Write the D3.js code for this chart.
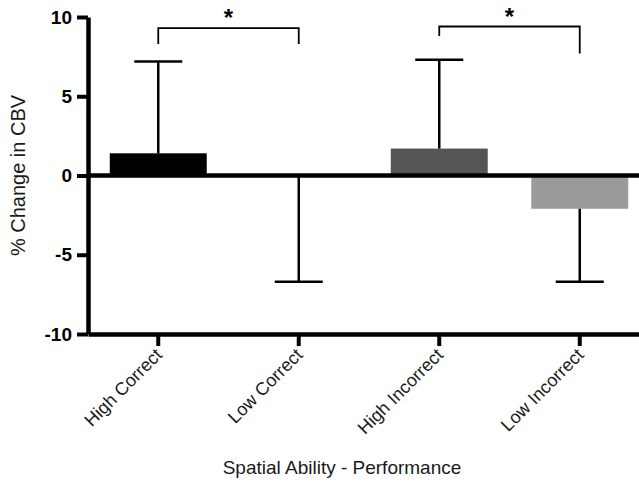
<!DOCTYPE html>
<html>
<head>
<meta charset="utf-8">
<script src="https://cdn.jsdelivr.net/npm/d3@7"></script>
<style>
  body { margin: 0; background: #fff; }
  text { font-family: "Liberation Sans", Arial, sans-serif; }
</style>
</head>
<body>
<div class="chart"></div>
<script>
const svgWidth = 639;
const svgHeight = 492;

// data
const groups = ["High Correct", "Low Correct", "High Incorrect", "Low Incorrect"];
const meanChange = [1.4, -0.05, 1.7, -2.1];
const errorEnd = [7.2, -6.7, 7.3, -6.7];
const barColors = ["#000000", "#000000", "#555555", "#9a9a9a"];
const yTicks = [-10, -5, 0, 5, 10];

// significance brackets: [from group, to group, bar height, left leg end, right leg end]
const brackets = [
  ["High Correct", "Low Correct", 9.3, 8.3, 8.3],
  ["High Incorrect", "Low Incorrect", 9.4, 8.8, 7.7]
];

const svg = d3.select(".chart")
  .append("svg")
  .attr("width", svgWidth)
  .attr("height", svgHeight);

// scales
const xScale = d3.scaleBand()
  .domain(groups)
  .range([88, 650])
  .paddingInner(0.31)
  .paddingOuter(0.155);

const yScale = d3.scaleLinear()
  .domain([-10, 10])
  .range([334, 17]);

const cx = g => xScale(g) + xScale.bandwidth() / 2;

// bars
svg.selectAll("rect.bar")
  .data(groups)
  .enter()
  .append("rect")
  .attr("class", "bar")
  .attr("x", d => xScale(d))
  .attr("width", xScale.bandwidth())
  .attr("y", (d, i) => yScale(Math.max(0, meanChange[i])))
  .attr("height", (d, i) => Math.abs(yScale(meanChange[i]) - yScale(0)))
  .attr("fill", (d, i) => barColors[i]);

// error bars
const capHalf = 24;
const errs = svg.append("g")
  .attr("stroke", "#000")
  .attr("stroke-width", 2.5);

groups.forEach((g, i) => {
  errs.append("line")
    .attr("x1", cx(g)).attr("x2", cx(g))
    .attr("y1", yScale(meanChange[i])).attr("y2", yScale(errorEnd[i]));
  errs.append("line")
    .attr("x1", cx(g) - capHalf).attr("x2", cx(g) + capHalf)
    .attr("y1", yScale(errorEnd[i])).attr("y2", yScale(errorEnd[i]));
});

// y axis
const yAxis = d3.axisLeft(yScale)
  .tickValues(yTicks)
  .tickFormat(d => String(d))
  .tickSize(11)
  .tickPadding(5)
  .tickSizeOuter(0);

const yG = svg.append("g")
  .attr("transform", "translate(88,0)")
  .call(yAxis);
yG.select(".domain").attr("stroke-width", 4.5);
yG.selectAll(".tick line").attr("stroke-width", 4);
yG.selectAll(".tick text")
  .attr("font-size", 19)
  .attr("font-weight", "bold")
  .attr("fill", "#000");

// zero line
svg.append("line")
  .attr("x1", 88).attr("x2", svgWidth)
  .attr("y1", yScale(0)).attr("y2", yScale(0))
  .attr("stroke", "#000")
  .attr("stroke-width", 4.5);

// x axis at bottom
const xAxis = d3.axisBottom(xScale)
  .tickSize(12)
  .tickSizeOuter(0)
  .tickFormat("");

const xG = svg.append("g")
  .attr("transform", `translate(0,${yScale(-10)})`)
  .call(xAxis);
xG.select(".domain").attr("stroke-width", 4.5);
xG.selectAll(".tick line").attr("stroke-width", 4);

// rotated category labels
svg.selectAll("text.cat")
  .data(groups)
  .enter()
  .append("text")
  .attr("class", "cat")
  .attr("transform", d => `translate(${cx(d) + 5},${yScale(-10) + 22}) rotate(-45)`)
  .attr("text-anchor", "end")
  .attr("font-size", 18)
  .attr("fill", "#1a1a1a")
  .text(d => d);

// axis titles
svg.append("text")
  .attr("transform", `translate(25,${yScale(0)}) rotate(-90)`)
  .attr("text-anchor", "middle")
  .attr("font-size", 20)
  .attr("fill", "#1a1a1a")
  .text("% Change in CBV");

svg.append("text")
  .attr("x", 342)
  .attr("y", 474)
  .attr("text-anchor", "middle")
  .attr("font-size", 19)
  .attr("fill", "#1a1a1a")
  .text("Spatial Ability - Performance");

// significance brackets
brackets.forEach(b => {
  const x1 = cx(b[0]), x2 = cx(b[1]);
  svg.append("path")
    .attr("d", `M${x1},${yScale(b[3])}V${yScale(b[2])}H${x2}V${yScale(b[4])}`)
    .attr("fill", "none")
    .attr("stroke", "#000")
    .attr("stroke-width", 1.8);
  svg.append("text")
    .attr("x", (x1 + x2) / 2)
    .attr("y", yScale(b[2]) - 2)
    .attr("text-anchor", "middle")
    .attr("font-size", 24)
    .attr("font-weight", "bold")
    .text("*");
});
</script>
</body>
</html>
